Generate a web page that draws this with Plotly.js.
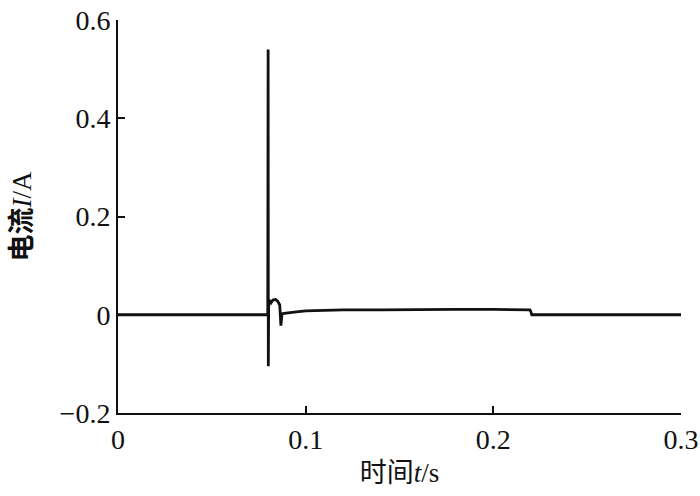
<!DOCTYPE html>
<html>
<head>
<meta charset="utf-8">
<script src="https://cdn.plot.ly/plotly-3.0.1.min.js"></script>
<style>html,body{margin:0;padding:0;background:#fff;}#chart{width:700px;height:496px;}</style>
</head>
<body>
<div id="chart"></div>
<script>
// time (s) and current (A)
var timeS = [0, 0.01, 0.02, 0.03, 0.04, 0.05, 0.06, 0.07, 0.0798, 0.0800, 0.0801, 0.0803, 0.0808, 0.0815, 0.0825, 0.0840, 0.0850, 0.0862, 0.0868, 0.0874, 0.0885, 0.090, 0.095, 0.100, 0.110, 0.120, 0.140, 0.160, 0.180, 0.200, 0.2195, 0.2200, 0.2205, 0.240, 0.260, 0.280, 0.300];
var currentA = [0, 0, -0.001, -0.001, -0.001, -0.001, -0.001, 0, 0, 0.54, -0.105, 0.030, 0.028, 0.024, 0.030, 0.031, 0.028, 0.020, -0.022, 0.002, 0.003, 0.004, 0.006, 0.008, 0.009, 0.010, 0.010, 0.011, 0.011, 0.011, 0.010, 0.006, 0.000, 0.000, 0.000, 0.000, 0.000];
var xTicks = [0, 0.1, 0.2, 0.3];
var xTickText = ['0', '0.1', '0.2', '0.3'];
var yTicks = [-0.2, 0, 0.2, 0.4, 0.6];
var yTickText = ['\u22120.2', '0', '0.2', '0.4', '0.6'];

var fontFam = 'Liberation Serif, "Noto Sans CJK SC", serif';

Plotly.newPlot('chart', [{
  x: timeS, y: currentA, mode: 'lines', type: 'scatter',
  line: {color: '#111', width: 2.8}, hoverinfo: 'skip'
}], {
  width: 700, height: 496,
  margin: {l: 118, r: 19, t: 20, b: 83},
  paper_bgcolor: '#fff', plot_bgcolor: '#fff',
  showlegend: false,
  font: {family: fontFam, color: '#111', size: 28},
  xaxis: {
    range: [0, 0.3], tickvals: xTicks, ticktext: xTickText,
    ticks: 'inside', ticklen: 7, tickwidth: 2, tickcolor: '#111',
    showline: true, linewidth: 2, linecolor: '#111', mirror: false,
    showgrid: false, zeroline: false,
    tickfont: {family: fontFam, size: 28, color: '#111'},
    title: {text: '时间<i>t</i>/s', font: {family: fontFam, size: 27, color: '#111'}, standoff: 10}
  },
  yaxis: {
    range: [-0.2, 0.6], tickvals: yTicks, ticktext: yTickText,
    ticks: 'inside', ticklen: 7, tickwidth: 2, tickcolor: '#111',
    showline: true, linewidth: 2, linecolor: '#111', mirror: false,
    showgrid: false, zeroline: false,
    tickfont: {family: fontFam, size: 28, color: '#111'},
    title: {text: '<b>电流</b><i>I</i>/A', font: {family: fontFam, size: 27, color: '#111'}, standoff: 20}
  }
}, {staticPlot: true, displayModeBar: false});
</script>
</body>
</html>
